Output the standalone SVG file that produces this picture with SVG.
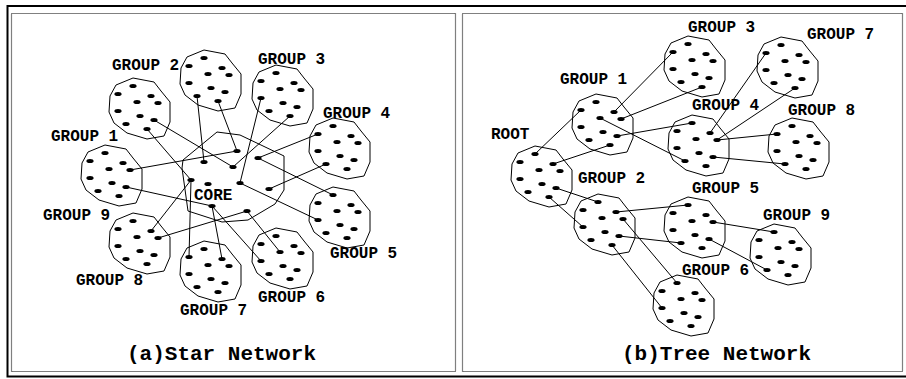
<svg xmlns="http://www.w3.org/2000/svg" xmlns:xlink="http://www.w3.org/1999/xlink" width="906" height="379" viewBox="0 0 906 379">
<style>
.cl{fill:none;stroke:#000;stroke-width:1}
.dot{fill:#000}
.lbl{font-family:"Liberation Mono","Courier New",monospace;font-weight:bold;font-size:16px;fill:#000}
.ttl{font-family:"Liberation Mono","Courier New",monospace;font-weight:bold;font-size:21px;fill:#000}
.pane{fill:none;stroke:#000;stroke-width:1.2;stroke-dasharray:1 1}
#conn line{stroke:#000;stroke-width:1}
</style>
<defs>
<g id="blob">
<polygon class="cl" points="7,7 24,0 45,4 52,13 61,24 61,44 55,58 38,61 18,55 5,45 0,34 1,18"/>
<g class="dot">
<ellipse cx="24" cy="8" rx="3.6" ry="2.1"/>
<ellipse cx="9" cy="16" rx="3.6" ry="2.1"/>
<ellipse cx="42" cy="18" rx="3.6" ry="2.1"/>
<ellipse cx="28" cy="24" rx="3.6" ry="2.1"/>
<ellipse cx="49" cy="25" rx="3.6" ry="2.1"/>
<ellipse cx="9" cy="33" rx="3.6" ry="2.1"/>
<ellipse cx="31" cy="38" rx="3.6" ry="2.1"/>
<ellipse cx="45" cy="42" rx="3.6" ry="2.1"/>
<ellipse cx="17" cy="46" rx="3.6" ry="2.1"/>
<ellipse cx="38" cy="51" rx="3.6" ry="2.1"/>
</g>
</g>
</defs>
<rect x="0" y="0" width="906" height="379" fill="#fff"/>
<path d="M910,6 H7.5 V376.5 H910" fill="none" stroke="#000" stroke-width="2"/>
<rect class="pane" x="11.5" y="13.5" width="444" height="358"/>
<rect class="pane" x="462.5" y="13.5" width="440" height="358"/>

<g id="conn">
<!-- star -->
<line x1="154" y1="120" x2="233" y2="167"/>
<line x1="147" y1="129" x2="191" y2="180"/>
<line x1="197" y1="96" x2="204" y2="162"/>
<line x1="218" y1="101" x2="237" y2="151"/>
<line x1="261" y1="98" x2="240" y2="183"/>
<line x1="290" y1="116" x2="233" y2="167"/>
<line x1="318" y1="134" x2="258" y2="158"/>
<line x1="326" y1="164" x2="269" y2="189"/>
<line x1="333" y1="195" x2="258" y2="158"/>
<line x1="318" y1="220" x2="240" y2="183"/>
<line x1="280" y1="252" x2="247" y2="211"/>
<line x1="261" y1="261" x2="212" y2="206"/>
<line x1="222" y1="259" x2="212" y2="206"/>
<line x1="189" y1="257" x2="191" y2="180"/>
<line x1="158" y1="238" x2="247" y2="211"/>
<line x1="151" y1="231" x2="191" y2="180"/>
<line x1="130" y1="170" x2="237" y2="151"/>
<line x1="126" y1="187" x2="212" y2="206"/>
<!-- tree -->
<line x1="535" y1="154" x2="581" y2="110"/>
<line x1="553" y1="164" x2="610" y2="145"/>
<line x1="556" y1="188" x2="598" y2="202"/>
<line x1="549" y1="197" x2="583" y2="227"/>
<line x1="614" y1="112" x2="673" y2="52"/>
<line x1="621" y1="119" x2="702" y2="87"/>
<line x1="600" y1="118" x2="685" y2="161"/>
<line x1="617" y1="136" x2="692" y2="123"/>
<line x1="710" y1="133" x2="766" y2="53"/>
<line x1="717" y1="140" x2="795" y2="88"/>
<line x1="717" y1="140" x2="777" y2="134"/>
<line x1="713" y1="157" x2="785" y2="164"/>
<line x1="616" y1="212" x2="688" y2="205"/>
<line x1="619" y1="236" x2="681" y2="243"/>
<line x1="623" y1="219" x2="677" y2="283"/>
<line x1="612" y1="245" x2="662" y2="308"/>
<line x1="713" y1="222" x2="774" y2="232"/>
<line x1="709" y1="239" x2="767" y2="270"/>
</g>

<!-- star network -->
<g id="core">
<polygon class="cl" points="183,160 217,132 240,135 284,156 284,190 275,204 248,220 222,222 188,211 182,168"/>
<g class="dot">
<ellipse cx="237" cy="151" rx="3.6" ry="2.1"/>
<ellipse cx="204" cy="162" rx="3.6" ry="2.1"/>
<ellipse cx="233" cy="167" rx="3.6" ry="2.1"/>
<ellipse cx="258" cy="158" rx="3.6" ry="2.1"/>
<ellipse cx="191" cy="180" rx="3.6" ry="2.1"/>
<ellipse cx="208" cy="184" rx="3.6" ry="2.1"/>
<ellipse cx="240" cy="183" rx="3.6" ry="2.1"/>
<ellipse cx="269" cy="189" rx="3.6" ry="2.1"/>
<ellipse cx="212" cy="206" rx="3.6" ry="2.1"/>
<ellipse cx="247" cy="211" rx="3.6" ry="2.1"/>
</g>
<text class="lbl" x="194" y="200">CORE</text>
</g>
<g id="star-group1"><use xlink:href="#blob" href="#blob" x="109" y="78"/><text class="lbl" x="51" y="141">GROUP 1</text></g>
<g id="star-group2"><use xlink:href="#blob" href="#blob" x="180" y="50"/><text class="lbl" x="112" y="70">GROUP 2</text></g>
<g id="star-group3"><use xlink:href="#blob" href="#blob" x="252" y="65"/><text class="lbl" x="258" y="64">GROUP 3</text></g>
<g id="star-group4"><use xlink:href="#blob" href="#blob" x="309" y="118"/><text class="lbl" x="323" y="118">GROUP 4</text></g>
<g id="star-group5"><use xlink:href="#blob" href="#blob" x="309" y="187"/><text class="lbl" x="330" y="258">GROUP 5</text></g>
<g id="star-group6"><use xlink:href="#blob" href="#blob" x="252" y="228"/><text class="lbl" x="258" y="302">GROUP 6</text></g>
<g id="star-group7"><use xlink:href="#blob" href="#blob" x="180" y="241"/><text class="lbl" x="180" y="315">GROUP 7</text></g>
<g id="star-group8"><use xlink:href="#blob" href="#blob" x="109" y="213"/><text class="lbl" x="76" y="285">GROUP 8</text></g>
<g id="star-group9"><use xlink:href="#blob" href="#blob" x="81" y="145"/><text class="lbl" x="43" y="220">GROUP 9</text></g>
<text class="ttl" x="127" y="360">(a)Star Network</text>

<!-- tree network -->
<g id="tree-root"><use xlink:href="#blob" href="#blob" x="511" y="146"/><text class="lbl" x="491" y="139">ROOT</text></g>
<g id="tree-group1"><use xlink:href="#blob" href="#blob" x="572" y="94"/><text class="lbl" x="560" y="84">GROUP 1</text></g>
<g id="tree-group2"><use xlink:href="#blob" href="#blob" x="574" y="194"/><text class="lbl" x="578" y="183">GROUP 2</text></g>
<g id="tree-group3"><use xlink:href="#blob" href="#blob" x="664" y="36"/><text class="lbl" x="688" y="32">GROUP 3</text></g>
<g id="tree-group4"><use xlink:href="#blob" href="#blob" x="668" y="115"/><text class="lbl" x="692" y="110">GROUP 4</text></g>
<g id="tree-group5"><use xlink:href="#blob" href="#blob" x="664" y="197"/><text class="lbl" x="692" y="193">GROUP 5</text></g>
<g id="tree-group6"><use xlink:href="#blob" href="#blob" x="653" y="275"/><text class="lbl" x="682" y="275">GROUP 6</text></g>
<g id="tree-group7"><use xlink:href="#blob" href="#blob" x="757" y="37"/><text class="lbl" x="807" y="39">GROUP 7</text></g>
<g id="tree-group8"><use xlink:href="#blob" href="#blob" x="768" y="118"/><text class="lbl" x="788" y="115">GROUP 8</text></g>
<g id="tree-group9"><use xlink:href="#blob" href="#blob" x="750" y="224"/><text class="lbl" x="763" y="220">GROUP 9</text></g>
<text class="ttl" x="622" y="360">(b)Tree Network</text>
</svg>
